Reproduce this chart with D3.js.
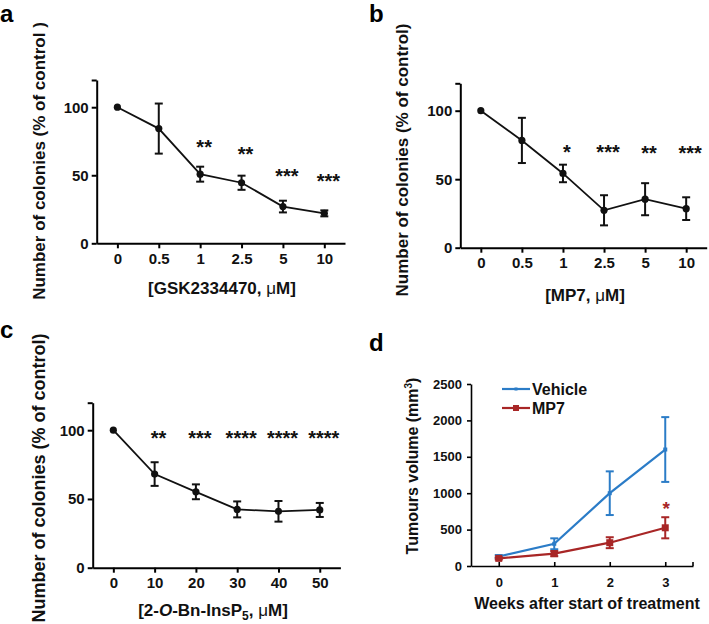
<!DOCTYPE html>
<html>
<head>
<meta charset="utf-8">
<script src="https://cdn.jsdelivr.net/npm/d3@7"></script>
<style>
  html, body { margin: 0; padding: 0; background: #fff; }
  svg { display: block; font-family: "Liberation Sans", Arial, sans-serif; }
</style>
</head>
<body>
<svg id="chart" width="709" height="624"></svg>
<script>
// ---------- Data ----------
const catsA = ["0", "0.5", "1", "2.5", "5", "10"];
const meanA = [100, 84.3, 50.8, 44.5, 27, 22];
const errA  = [0, 18.4, 5.5, 5.2, 4.3, 2.2];
const starA = ["", "", "**", "**", "***", "***"];
const starYA = [null, null, 73.7, 68.6, 52.4, 48.8];

const catsB = ["0", "0.5", "1", "2.5", "5", "10"];
const meanB = [100, 78.3, 54.2, 27.3, 35.4, 28.5];
const errB  = [0, 16.5, 6.4, 11, 11.7, 8.3];
const starB = ["", "", "*", "***", "**", "***"];
const starYB = [null, null, 72.8, 72.8, 72.2, 72];

const catsC = ["0", "10", "20", "30", "40", "50"];
const meanC = [100, 68.1, 55.2, 42.4, 41, 42];
const errC  = [0, 8.6, 5.4, 5.8, 7.5, 5.1];
const starC = ["", "**", "***", "****", "****", "****"];
const starYC = [null, 97, 97, 97, 97, 97];

const weeks = ["0", "1", "2", "3"];
const vehicle = [130, 305, 1000, 1600];
const vehicleErr = [20, 75, 300, 445];
const mp7 = [105, 170, 320, 525];
const mp7Err = [15, 35, 75, 145];
const mp7Star = ["", "", "", "*"];
const mp7StarY = [null, null, null, 838];

const yTicksDose = [0, 50, 100, 120];
const yTicksD = [0, 500, 1000, 1500, 2000, 2500];

// ---------- Drawing ----------
const FONT = '"Liberation Sans", Arial, sans-serif';
const svg = d3.select("#chart");

function dosePanel(o) {
  const g = svg.append("g");
  const x = d3.scalePoint().domain(o.cats).range(o.xr).padding(0.5);
  const y = d3.scaleLinear().domain([0, 120]).range(o.yr);

  const ya = g.append("g").attr("transform", `translate(${o.xr[0]},0)`)
    .call(d3.axisLeft(y).tickValues(yTicksDose).tickSize(5).tickSizeOuter(0).tickPadding(3)
      .tickFormat(d => d === 120 ? "" : d));
  const xa = g.append("g").attr("transform", `translate(0,${o.yr[0]})`)
    .call(d3.axisBottom(x).tickSize(5).tickSizeOuter(0).tickPadding(5));
  [ya, xa].forEach(a => {
    a.select(".domain").attr("stroke", "#000").attr("stroke-width", 2);
    a.selectAll(".tick line").attr("stroke", "#000").attr("stroke-width", 2);
    a.selectAll("text").attr("font-family", FONT).attr("font-size", 15)
      .attr("font-weight", "bold").attr("fill", "#111");
  });

  const line = d3.line().x((d, i) => x(o.cats[i])).y(d => y(d));
  g.append("path").datum(o.mean).attr("d", line)
    .attr("fill", "none").attr("stroke", "#111").attr("stroke-width", 1.8);

  const eg = g.append("g").attr("stroke", "#111").attr("stroke-width", 2);
  o.mean.forEach((m, i) => {
    if (!o.err[i]) return;
    const cx = x(o.cats[i]);
    const lo = y(m - o.err[i]), hi = y(m + o.err[i]);
    eg.append("line").attr("x1", cx).attr("x2", cx).attr("y1", lo).attr("y2", hi);
    eg.append("line").attr("x1", cx - 4).attr("x2", cx + 4).attr("y1", lo).attr("y2", lo);
    eg.append("line").attr("x1", cx - 4).attr("x2", cx + 4).attr("y1", hi).attr("y2", hi);
  });
  g.selectAll("circle.pt").data(o.mean).join("circle")
    .attr("cx", (d, i) => x(o.cats[i])).attr("cy", d => y(d)).attr("r", 3.6)
    .attr("fill", "#111");

  g.selectAll("text.star").data(o.star).join("text")
    .attr("x", (d, i) => x(o.cats[i]) + 4)
    .attr("y", (d, i) => o.starY[i] == null ? 0 : y(o.starY[i]) + 11)
    .attr("text-anchor", "middle").attr("font-family", FONT)
    .attr("font-size", 20).attr("font-weight", "bold").attr("fill", "#111")
    .text(d => d);

  // y title
  g.append("text")
    .attr("transform", `translate(${o.ytx},${o.yty}) rotate(-90)`)
    .attr("text-anchor", "middle").attr("font-family", FONT)
    .attr("font-size", o.ytSize).attr("font-weight", "bold").attr("fill", "#111")
    .text(o.ytitle);
  // x title
  const xt = g.append("text").attr("x", o.xtx).attr("y", o.xty)
    .attr("text-anchor", "middle").attr("font-family", FONT)
    .attr("font-size", 17).attr("font-weight", "bold").attr("fill", "#111");
  o.xtitle(xt);
  // panel letter
  svg.append("text").attr("x", o.lx).attr("y", o.ly).attr("font-family", FONT)
    .attr("font-size", 24).attr("font-weight", "bold").attr("fill", "#000").text(o.letter);
}

dosePanel({
  cats: catsA, mean: meanA, err: errA, star: starA, starY: starYA,
  xr: [96.7, 345], yr: [243.3, 80],
  ytitle: "Number of colonies (% of control )", ytx: 45, yty: 161, ytSize: 17,
  xtx: 222, xty: 294,
  xtitle: t => { t.append("tspan").text("[GSK2334470, "); t.append("tspan").attr("font-weight", "normal").text("μ"); t.append("tspan").text("M]"); },
  letter: "a", lx: 0, ly: 22
});
dosePanel({
  cats: catsB, mean: meanB, err: errB, star: starB, starY: starYB,
  xr: [460.3, 706.7], yr: [247.7, 83.3],
  ytitle: "Number of colonies (% of control)", ytx: 408, yty: 160, ytSize: 17,
  xtx: 585, xty: 301,
  xtitle: t => { t.append("tspan").text("[MP7, "); t.append("tspan").attr("font-weight", "normal").text("μ"); t.append("tspan").text("M]"); },
  letter: "b", lx: 369, ly: 22
});
dosePanel({
  cats: catsC, mean: meanC, err: errC, star: starC, starY: starYC,
  xr: [92.7, 340.4], yr: [567.7, 402.7],
  ytitle: "Number of colonies (% of control)", ytx: 45, yty: 478, ytSize: 18,
  xtx: 213, xty: 616,
  xtitle: t => {
    t.append("tspan").text("[2-");
    t.append("tspan").attr("font-style", "italic").text("O");
    t.append("tspan").text("-Bn-InsP");
    t.append("tspan").attr("font-size", 12).attr("dy", 4).text("5");
    t.append("tspan").attr("dy", -4).text(", ");
    t.append("tspan").attr("font-weight", "normal").text("μ");
    t.append("tspan").text("M]");
  },
  letter: "c", lx: 0, ly: 338
});

// ---------- Panel d ----------
(function () {
  const g = svg.append("g");
  const x = d3.scalePoint().domain(weeks).range([471, 693]).padding(0.5);
  const y = d3.scaleLinear().domain([0, 2500]).range([566, 384]);
  const blue = "#2b7cc7", red = "#a82626";

  const ya = g.append("g").attr("transform", "translate(471,0)")
    .call(d3.axisLeft(y).tickValues(yTicksD).tickSize(4).tickSizeOuter(0).tickPadding(5)
      .tickFormat(d3.format("d")));
  const xa = g.append("g").attr("transform", "translate(0,566)")
    .call(d3.axisBottom(x).tickSize(-4).tickSizeOuter(0).tickPadding(12));
  [ya, xa].forEach(a => {
    a.select(".domain").attr("stroke", "#000").attr("stroke-width", 1.6);
    a.selectAll(".tick line").attr("stroke", "#000").attr("stroke-width", 1.6);
    a.selectAll("text").attr("font-family", FONT).attr("font-size", 13)
      .attr("font-weight", "bold").attr("fill", "#111");
  });
  g.append("line").attr("x1", 693).attr("x2", 693).attr("y1", 566).attr("y2", 562)
    .attr("stroke", "#000").attr("stroke-width", 1.6);

  function series(vals, errs, color, marker) {
    const line = d3.line().x((d, i) => x(weeks[i])).y(d => y(d));
    g.append("path").datum(vals).attr("d", line).attr("fill", "none")
      .attr("stroke", color).attr("stroke-width", 2.2);
    const eg = g.append("g").attr("stroke", color).attr("stroke-width", 2);
    vals.forEach((v, i) => {
      const cx = x(weeks[i]);
      const lo = y(v - errs[i]), hi = y(v + errs[i]);
      eg.append("line").attr("x1", cx).attr("x2", cx).attr("y1", lo).attr("y2", hi);
      eg.append("line").attr("x1", cx - 4).attr("x2", cx + 4).attr("y1", lo).attr("y2", lo);
      eg.append("line").attr("x1", cx - 4).attr("x2", cx + 4).attr("y1", hi).attr("y2", hi);
      if (marker === "sq") {
        g.append("rect").attr("x", cx - 3.5).attr("y", y(v) - 3.5).attr("width", 7).attr("height", 7).attr("fill", color);
      } else {
        g.append("rect").attr("x", cx - 2).attr("y", y(v) - 2).attr("width", 4).attr("height", 4).attr("fill", color);
      }
    });
  }
  series(vehicle, vehicleErr, blue, "dot");
  series(mp7, mp7Err, red, "sq");

  g.selectAll("text.dstar").data(mp7Star).join("text")
    .attr("x", (d, i) => x(weeks[i]) + 1)
    .attr("y", (d, i) => mp7StarY[i] == null ? 0 : y(mp7StarY[i]) + 10)
    .attr("text-anchor", "middle").attr("font-family", FONT)
    .attr("font-size", 19).attr("font-weight", "bold").attr("fill", red)
    .text(d => d);

  // legend
  const leg = [{ name: "Vehicle", c: blue, m: "dot", y: 389 }, { name: "MP7", c: red, m: "sq", y: 408 }];
  leg.forEach(l => {
    g.append("line").attr("x1", 502).attr("x2", 530).attr("y1", l.y).attr("y2", l.y)
      .attr("stroke", l.c).attr("stroke-width", 2.2);
    const s = l.m === "sq" ? 6 : 3;
    g.append("rect").attr("x", 516 - s / 2).attr("y", l.y - s / 2).attr("width", s).attr("height", s).attr("fill", l.c);
    g.append("text").attr("x", 532).attr("y", l.y + 6).attr("font-family", FONT)
      .attr("font-size", 16).attr("font-weight", "bold").attr("fill", "#111").text(l.name);
  });

  const yt = g.append("text").attr("transform", "translate(418,466) rotate(-90)")
    .attr("text-anchor", "middle").attr("font-family", FONT)
    .attr("font-size", 16).attr("font-weight", "bold").attr("fill", "#111");
  yt.append("tspan").text("Tumours volume (mm");
  yt.append("tspan").attr("font-size", 10).attr("dy", -6).text("3");
  yt.append("tspan").attr("dy", 6).text(")");

  g.append("text").attr("x", 587).attr("y", 609).attr("text-anchor", "middle")
    .attr("font-family", FONT).attr("font-size", 16).attr("font-weight", "bold")
    .attr("fill", "#111").text("Weeks after start of treatment");

  svg.append("text").attr("x", 369).attr("y", 351).attr("font-family", FONT)
    .attr("font-size", 24).attr("font-weight", "bold").attr("fill", "#000").text("d");
})();
</script>
</body>
</html>
